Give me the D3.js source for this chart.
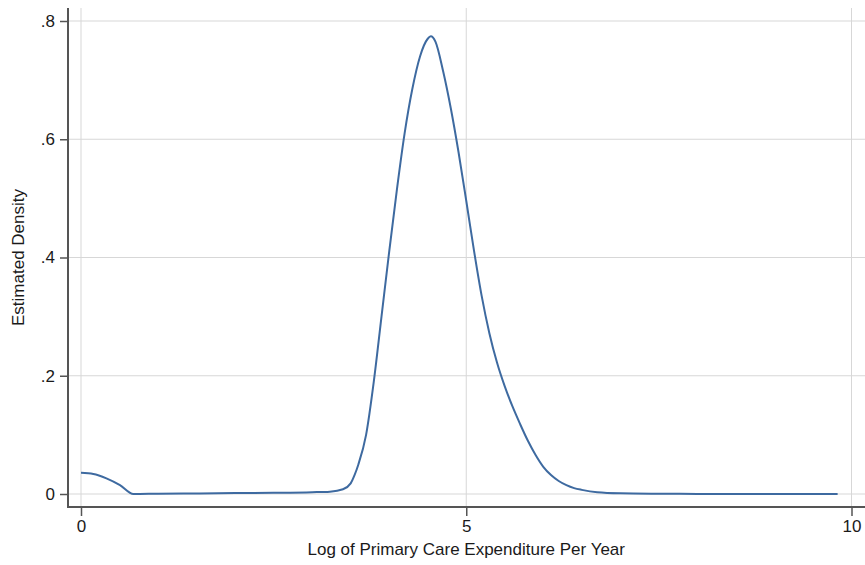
<!DOCTYPE html>
<html>
<head>
<meta charset="utf-8">
<script src="https://cdn.jsdelivr.net/npm/d3@7"></script>
<style>
  body { margin: 0; background: #fff; }
  text { font-family: "Liberation Sans", Arial, sans-serif; fill: #1a1a1a; }
</style>
</head>
<body>
<svg id="chart" width="865" height="565"></svg>
<script>
// kernel density estimate
const logSpend = [0, 0.16, 0.33, 0.506, 0.68, 1.0, 1.54, 2.0, 2.5, 3.0, 3.23, 3.4, 3.5, 3.55,
  3.6, 3.7, 3.8, 3.9, 4.0, 4.1, 4.2, 4.3, 4.4, 4.5, 4.54, 4.6, 4.7, 4.8, 4.9, 5.0, 5.1, 5.2, 5.3,
  5.4, 5.5, 5.6, 5.7, 5.8, 5.9, 6.0, 6.1, 6.2, 6.3, 6.4, 6.5, 6.7, 7.0, 7.5, 8.0, 9.0, 9.82];
const density = [0.036, 0.034, 0.0265, 0.015, 0.0, 0.0005, 0.001, 0.0015, 0.002, 0.003, 0.004,
  0.008, 0.018, 0.032, 0.05, 0.10, 0.19, 0.30, 0.41, 0.515, 0.61, 0.685, 0.74, 0.77, 0.774,
  0.765, 0.715, 0.652, 0.578, 0.496, 0.412, 0.335, 0.272, 0.222, 0.182, 0.148, 0.118, 0.09,
  0.066, 0.046, 0.032, 0.022, 0.015, 0.01, 0.007, 0.003, 0.0012, 0.0005, 0.0002, 0.0, 0.0];
const xTicks = [0, 5, 10];
const yTicks = [0, 0.2, 0.4, 0.6, 0.8];

const svg = d3.select("#chart");
const plot = { left: 68, right: 866, top: 8, bottom: 507 };

const x = d3.scaleLinear().domain([0, 10]).range([81, 851.5]);
const y = d3.scaleLinear().domain([0, 0.8]).range([494, 21]);

// grid
svg.append("g").selectAll("line")
  .data(yTicks).enter().append("line")
  .attr("x1", plot.left).attr("x2", plot.right)
  .attr("y1", d => y(d)).attr("y2", d => y(d))
  .attr("stroke", "#d7d7d7").attr("stroke-width", 1);
svg.append("g").selectAll("line")
  .data(xTicks).enter().append("line")
  .attr("x1", d => x(d)).attr("x2", d => x(d))
  .attr("y1", plot.top).attr("y2", plot.bottom)
  .attr("stroke", "#d7d7d7").attr("stroke-width", 1);

// curve
const pts = logSpend.map((v, i) => [v, density[i]]);
svg.append("path")
  .datum(pts)
  .attr("fill", "none")
  .attr("stroke", "#3e6aa0")
  .attr("stroke-width", 2)
  .attr("d", d3.line().x(d => x(d[0])).y(d => y(d[1])).curve(d3.curveMonotoneX));

// axes
const yAxis = svg.append("g")
  .attr("transform", `translate(${plot.left},0)`)
  .call(d3.axisLeft(y).tickValues(yTicks).tickSize(8).tickPadding(5)
    .tickFormat(d => d === 0 ? "0" : d3.format(".1f")(d).replace(/^0/, "")));
const xAxis = svg.append("g")
  .attr("transform", `translate(0,${plot.bottom})`)
  .call(d3.axisBottom(x).tickValues(xTicks).tickSize(9).tickPadding(4));

[yAxis, xAxis].forEach(g => {
  g.select(".domain").remove();
  g.selectAll(".tick line").attr("stroke", "#555").attr("stroke-width", 1.5);
  g.selectAll(".tick text").attr("font-size", 17).attr("font-family", null).attr("fill", "#1a1a1a");
});

svg.append("line")
  .attr("x1", plot.left).attr("x2", plot.left)
  .attr("y1", plot.top).attr("y2", plot.bottom + 1)
  .attr("stroke", "#555").attr("stroke-width", 2);
svg.append("line")
  .attr("x1", plot.left - 1).attr("x2", plot.right)
  .attr("y1", plot.bottom).attr("y2", plot.bottom)
  .attr("stroke", "#555").attr("stroke-width", 2);

// titles
svg.append("text")
  .attr("x", x(5)).attr("y", 555)
  .attr("text-anchor", "middle").attr("font-size", 17)
  .text("Log of Primary Care Expenditure Per Year");
svg.append("text")
  .attr("transform", `translate(24,${(plot.top + plot.bottom) / 2}) rotate(-90)`)
  .attr("text-anchor", "middle").attr("font-size", 17)
  .text("Estimated Density");
</script>
</body>
</html>
